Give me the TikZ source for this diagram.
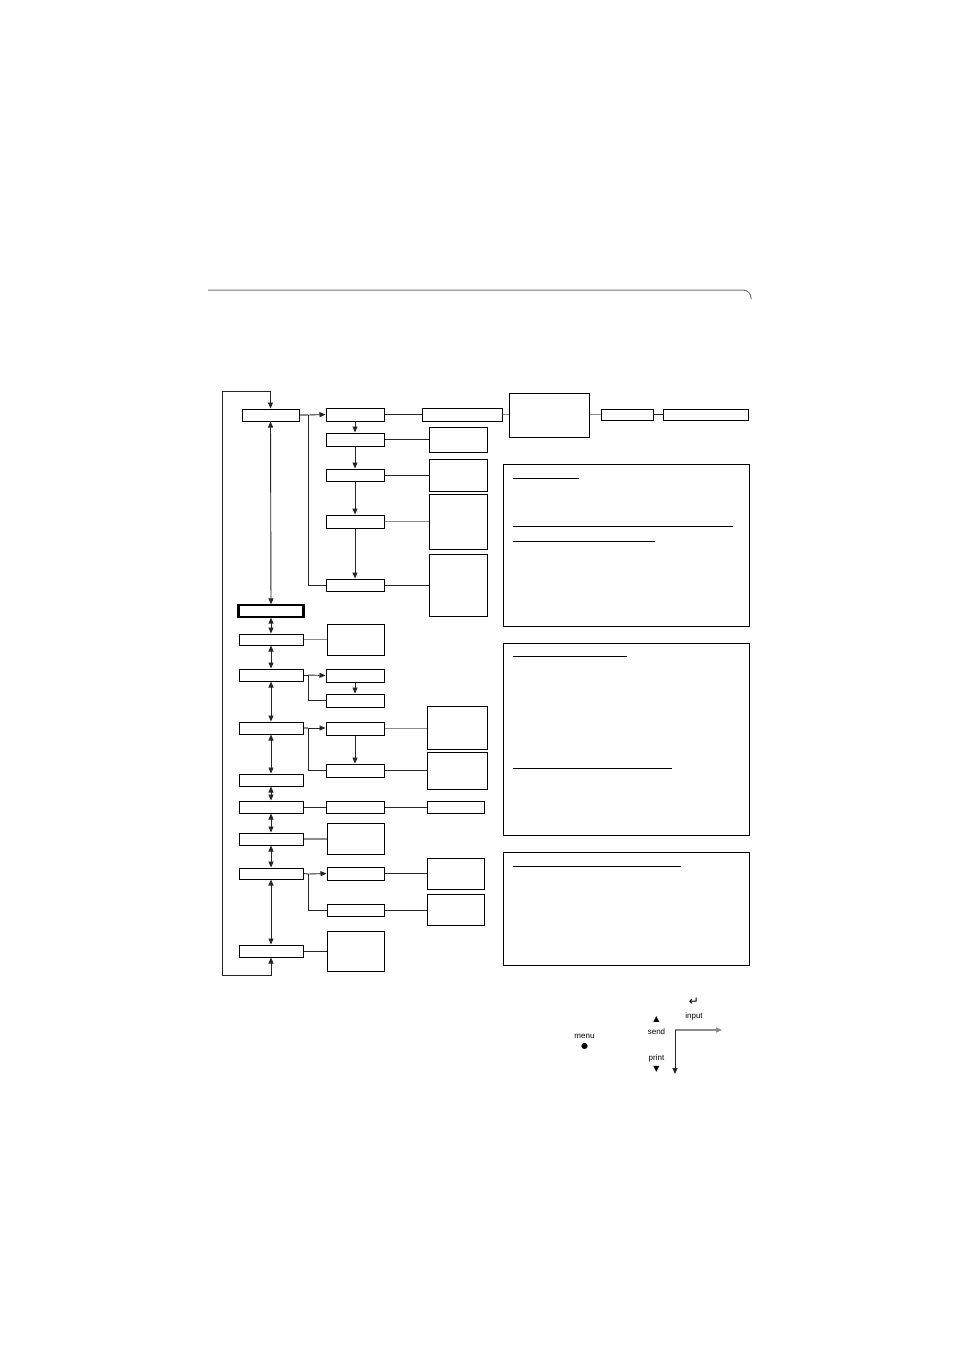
\documentclass[tikz,border=0pt]{standalone}
\usepackage{fontspec}
\setmainfont{Liberation Sans}
\newfontfamily\symfont{DejaVu Sans}
\usetikzlibrary{arrows.meta}
\newcommand\mybox[6][]{\node[box,#1,minimum width={(#5-#3)*1pt},minimum height={(#6-#4)*1pt}] (#2) at ({(#3+#5)/2},{(#4+#6)/2}) {};}
\begin{document}
\begin{tikzpicture}[x=1pt,y=-1pt,
  box/.style={draw, line width=1pt, inner sep=0pt, fill=white},
  tbox/.style={draw, line width=0.95pt, inner sep=0pt},
  conn/.style={line width=0.9pt, draw=black!85},
  gconn/.style={line width=1.2pt, draw=black!45},
  uline/.style={line width=1pt},
  tip/.style={-{Triangle[length=6pt,width=5pt]}},
  dtip/.style={{Triangle[length=6pt,width=5pt]}-{Triangle[length=6pt,width=5pt]}},
  lbl/.style={inner sep=0pt, font=\fontsize{8}{9}\selectfont},
  sym/.style={inner sep=0pt, font=\symfont\fontsize{8}{9}\selectfont}]
\useasboundingbox (0,0) rectangle (954,1350);
% top rule
\draw[line width=1pt, draw=black!55, rounded corners=8pt] (208,290) -- (751,290) -- (751,299);
% main column
\mybox{m1}{242}{409}{299}{421}
\mybox[line width=1.3pt]{m2}{239}{605}{303}{617}
\draw[line width=1.8pt] (m2.south west) -- (m2.north west) (m2.south east) -- (m2.north east);
\mybox{m3}{239}{634}{303}{645}
\mybox{m4}{239}{669}{303}{681}
\mybox{m5}{239}{722}{303}{734}
\mybox{m6}{239}{774}{303}{786}
\mybox{m7}{239}{801}{303}{813}
\mybox{m8}{239}{833}{303}{845}
\mybox{m9}{239}{868}{303}{879}
\mybox{m10}{239}{945}{303}{957}
% second column
\mybox{a1}{326}{408}{384}{421}
\mybox{a2}{326}{433}{384}{446}
\mybox{a3}{326}{469}{384}{481}
\mybox{a4}{326}{515}{384}{528}
\mybox{a5}{326}{579}{384}{591}
\mybox{g3}{327}{624}{384}{655}
\mybox{h1}{326}{669}{384}{682}
\mybox{h2}{326}{694}{384}{707}
\mybox{i1}{326}{722}{384}{735}
\mybox{i2}{326}{764}{384}{777}
\mybox{k1}{326}{801}{384}{813}
\mybox{l8}{327}{823}{384}{854}
\mybox{n1}{327}{867}{384}{880}
\mybox{n2}{327}{904}{384}{916}
\mybox{o10}{327}{931}{384}{971}
% third column
\mybox{b1}{422}{408}{502}{421}
\mybox{f2}{429}{427}{487}{452}
\mybox{f3}{429}{459}{487}{491}
\mybox{f4}{429}{494}{487}{549}
\mybox{f5}{429}{554}{487}{616}
\mybox{j1}{427}{706}{487}{749}
\mybox{j2}{427}{752}{487}{789}
\mybox{k2}{427}{801}{484}{813}
\mybox{p1}{427}{858}{484}{889}
\mybox{p2}{427}{894}{484}{925}
% top right
\mybox{c}{509}{393}{589}{437}
\mybox{d}{601}{409}{653}{420}
\mybox{e}{663}{409}{748}{420}
% text boxes
\mybox[tbox]{t1}{503}{464}{749}{626}
\mybox[tbox]{t2}{503}{643}{749}{835}
\mybox[tbox]{t3}{503}{852}{749}{965}
\draw[uline] (513,478.5) -- (579,478.5);
\draw[uline] (513,526) -- (733,526);
\draw[uline] (513,541.5) -- (655,541.5);
\draw[uline] (513,656) -- (627,656);
\draw[uline] (513,768) -- (672,768);
\draw[uline] (513,866.5) -- (681,866.5);
% connectors: first group
\coordinate (s1) at (308,415);
\draw[gconn] (m1.east) -- (s1);
\draw[conn,tip] (s1) -- (a1.west);
\draw[conn] (s1) |- (a5.west);
\draw[conn,tip] (a1) -- (a2);
\draw[conn,tip] (a2) -- (a3);
\draw[conn,tip] (a3) -- (a4);
\draw[conn,tip] (a4) -- (a5);
\draw[conn] (a1) -- (b1);
\draw[gconn] (b1) -- (c.west |- b1);
\draw[gconn] (c.east |- d) -- (d);
\draw[conn] (d) -- (e);
\draw[conn] (a2) -- (f2);
\draw[conn] (a3) -- (f3);
\draw[gconn] (a4.east) -- (f4.west |- a4.east);
\draw[conn] (a5.east) -- (f5.west |- a5.east);
% main column arrows
\draw[conn,dtip] (m1) -- (m2);
\draw[conn,dtip] (m2) -- (m3);
\draw[conn,dtip] (m3) -- (m4);
\draw[conn,dtip] (m4) -- (m5);
\draw[conn,dtip] (m5) -- (m6);
\draw[conn,dtip] (m6) -- (m7);
\draw[conn,dtip] (m7) -- (m8);
\draw[conn,dtip] (m8) -- (m9);
\draw[conn,dtip] (m9) -- (m10);
% loop
\coordinate (lp1) at (222,975);
\coordinate (lp2) at (222,391);
\draw[conn,dtip] (m10.south) |- (lp1) -- (lp2) -| (m1.north);
% row 3
\draw[gconn] (m3.east) -- (g3.west |- m3.east);
% row 4
\coordinate (s4) at (308,675);
\draw[conn] (m4.east) -- (s4);
\draw[conn,tip] (s4) -- (h1.west);
\draw[conn] (s4) |- (h2.west);
\draw[conn,tip] (h1) -- (h2);
% row 5
\coordinate (s5) at (308,728);
\draw[gconn] (m5.east) -- (s5);
\draw[conn,tip] (s5) -- (i1.west |- s5);
\draw[conn] (s5) |- (i2.west);
\draw[conn,tip] (i1) -- (i2);
\draw[gconn] (i1.east) -- (j1.west |- i1.east);
\draw[conn] (i2.east) -- (j2.west |- i2.east);
% row 7
\draw[conn] (m7) -- (k1);
\draw[conn] (k1) -- (k2);
% row 8
\draw[gconn] (m8.east) -- (l8.west |- m8.east);
% row 9
\coordinate (s9) at (308,874);
\draw[conn] (m9.east) -- (s9);
\draw[conn,tip] (s9) -- (n1.west);
\draw[conn] (s9) |- (n2.west);
\draw[conn] (n1) -- (p1.west |- n1);
\draw[conn] (n2) -- (p2.west |- n2);
% row 10
\draw[conn] (m10.east) -- (o10.west |- m10.east);
% key legend
\node[lbl] (menu) at (584.5,1036) {menu};
\node[sym] (dot) at (584.7,1046.5) {●};
\node[sym] (up) at (656.5,1019.5) {▲};
\node[lbl] (send) at (656.5,1032) {send};
\node[lbl] (print) at (656.5,1058) {print};
\node[sym] (down) at (656.5,1069.5) {▼};
\node[sym, font=\symfont\fontsize{12}{13}\selectfont] (enter) at (694,1002) {↵};
\node[lbl] (input) at (694,1016) {input};
\coordinate (corner) at (675,1030);
\coordinate (rt) at (722,1030);
\coordinate (dn) at (675,1074);
\draw[gconn,tip] (corner) -- (rt);
\draw[conn,tip] (corner) -- (dn);
\end{tikzpicture}
\end{document}
